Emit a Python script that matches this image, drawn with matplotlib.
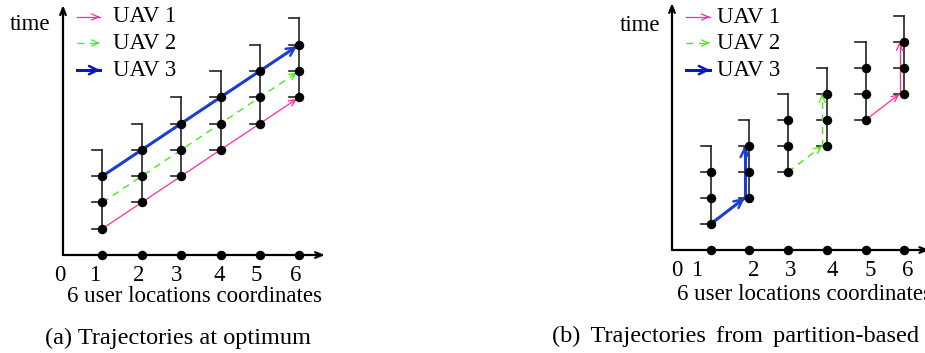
import matplotlib
matplotlib.use('Agg')
import matplotlib.pyplot as plt

plt.rcParams['font.family'] = ['Liberation Serif', 'DejaVu Serif']

W, H = 925, 353

# ---------------- data ----------------
locations = [1, 2, 3, 4, 5, 6]
slot_start = [1, 2, 3, 4, 5, 6]     # first time slot at each location
n_slots = 3

tick_labels = ['0', '1', '2', '3', '4', '5', '6']
uav_names = ['UAV 1', 'UAV 2', 'UAV 3']

# (a) trajectories at optimum: (location, time)
traj_a = {
    'UAV 1': [(1, 1), (6, 6)],
    'UAV 2': [(1, 2), (6, 7)],
    'UAV 3': [(1, 3), (6, 8)],
}
# (b) trajectories from partition-based
traj_b = {
    'UAV 1': [(5, 5), (6, 6), (6, 8)],
    'UAV 2': [(3, 3), (4, 4), (4, 6)],
    'UAV 3': [(1, 1), (2, 2), (2, 4)],
}

xlabel = '6 user locations coordinates'
ylabel = 'time'
captions = ['(a) Trajectories at optimum', '(b) Trajectories from partition-based algorithm']

# ---------------- styles ----------------
styles = {
    'UAV 1': dict(color='#ff2a9d', lw=0.9, ls='-', hw=0.22, hl=0.5),
    'UAV 2': dict(color='#44ee11', lw=1.0, ls=(0, (5, 4)), hw=0.22, hl=0.5),
    'UAV 3': dict(color='#1a3fd0', lw=2.2, ls='-', hw=0.3, hl=0.6),
}
legend_col = {'UAV 1': '#ff2a9d', 'UAV 2': '#44ee11', 'UAV 3': '#0a14c8'}
FS = 16.5
FS_CAP = 17.5
DOT = 5.8


def make_axes(left_px, right_px, ox, oy, ux, uy):
    ax = fig.add_axes([left_px / W, 0, (right_px - left_px) / W, 1])
    ax.set_xlim((left_px - ox) / ux, (right_px - ox) / ux)
    ax.set_ylim((oy - H) / uy, oy / uy)
    ax.axis('off')
    return ax


def arrow(ax, p0, p1, color, lw, hw=0.2, hl=0.4, shrink=0):
    ax.annotate('', xy=p1, xytext=p0, annotation_clip=False,
                arrowprops=dict(arrowstyle='->,head_width=%g,head_length=%g' % (hw, hl),
                                color=color, lw=lw, shrinkA=0, shrinkB=shrink))


def draw_panel(ax, traj, tick_pos, legend_x, legend_y, text_x, time_xy, vshift):
    # axes
    arrow(ax, (0, 0), (0, 9.5), 'black', 1.6, 0.2, 0.5)
    arrow(ax, (0, 0), (6.65, 0), 'black', 1.6, 0.2, 0.5)
    ax.plot(locations, [0] * len(locations), 'o', color='black', ms=DOT, zorder=5, clip_on=False)

    # ladders of time slots
    for loc, s in zip(locations, slot_start):
        top = s + n_slots
        ax.plot([loc, loc], [s, top], color='#222222', lw=1.2, zorder=2)
        for t in range(s, top + 1):
            ax.plot([loc - 0.26, loc], [t, t], color='#222222', lw=1.2, zorder=2)
        ax.plot([loc] * n_slots, list(range(s, s + n_slots)), 'o', color='black', ms=DOT, zorder=5)

    # trajectories
    for name, pts in traj.items():
        st = styles[name]
        xs = [p[0] for p in pts]
        ys = [p[1] for p in pts]
        # vertical segments drawn just left of the ladder line
        for i in range(1, len(pts)):
            if i < len(pts) - 1 and xs[i] == xs[i + 1]:
                xs[i] -= vshift
            if xs[i] == pts[i - 1][0]:
                xs[i] = xs[i - 1]
        for i in range(len(xs) - 1):
            p0, p1 = (xs[i], ys[i]), (xs[i + 1], ys[i + 1])
            ax.plot([p0[0], p1[0]], [p0[1], p1[1]], color=st['color'], lw=st['lw'],
                    ls=st['ls'], zorder=4, solid_capstyle='butt')
            # solid arrow head near the end point
            frac = 0.97
            q = (p0[0] + (p1[0] - p0[0]) * frac, p0[1] + (p1[1] - p0[1]) * frac)
            arrow(ax, q, p1, st['color'], max(st['lw'] * 0.8, 0.9), st['hw'], st['hl'], shrink=2)

    # legend
    for name, ly in zip(uav_names, legend_y):
        st = styles[name]
        ax.plot(legend_x, [ly, ly], color=legend_col[name], lw=st['lw'], ls=st['ls'])
        arrow(ax, (legend_x[1] - 0.05, ly), (legend_x[1], ly), legend_col[name],
              max(st['lw'] * 0.8, 0.9), st['hw'], st['hl'])
        ax.text(text_x, ly, name, fontsize=FS, va='center', ha='left')

    ax.text(time_xy[0], time_xy[1], ylabel, fontsize=FS, va='center', ha='right')
    for lab, xp in zip(tick_labels, tick_pos):
        ax.text(xp, -0.78, lab, fontsize=FS, va='center', ha='center')


fig = plt.figure(figsize=(W / 100, H / 100), dpi=100)

ax_a = make_axes(0, 460, 63, 255, 39.4, 26.3)
draw_panel(ax_a, traj_a,
           tick_pos=[-0.08, 0.81, 1.93, 2.89, 3.96, 4.90, 5.91],
           legend_x=[0.36, 0.94], legend_y=[9.05, 8.06, 7.03], text_x=1.27,
           time_xy=(-0.33, 8.75), vshift=0.12)

ax_b = make_axes(460, 925, 672, 250, 38.7, 26.0)
draw_panel(ax_b, traj_b,
           tick_pos=[0.13, 0.65, 2.12, 3.07, 4.13, 5.12, 6.10],
           legend_x=[0.36, 0.98], legend_y=[8.96, 7.96, 6.92], text_x=1.16,
           time_xy=(-0.31, 8.65), vshift=0.12)

fig.text(67 / W, 1 - 297 / H, xlabel, fontsize=FS, va='center', ha='left')
fig.text(677 / W, 1 - 295 / H, xlabel, fontsize=FS, va='center', ha='left')
fig.text(45 / W, 1 - 338 / H, captions[0], fontsize=FS_CAP, va='center', ha='left')
# caption (b) is set with wider word spacing (justified line in the source)
fig.text(552 / W, 1 - 336 / H, captions[1].replace(' ', ' \u200a\u200a'),
         fontsize=FS_CAP, va='center', ha='left')

fig.savefig('out.png', dpi=100)
